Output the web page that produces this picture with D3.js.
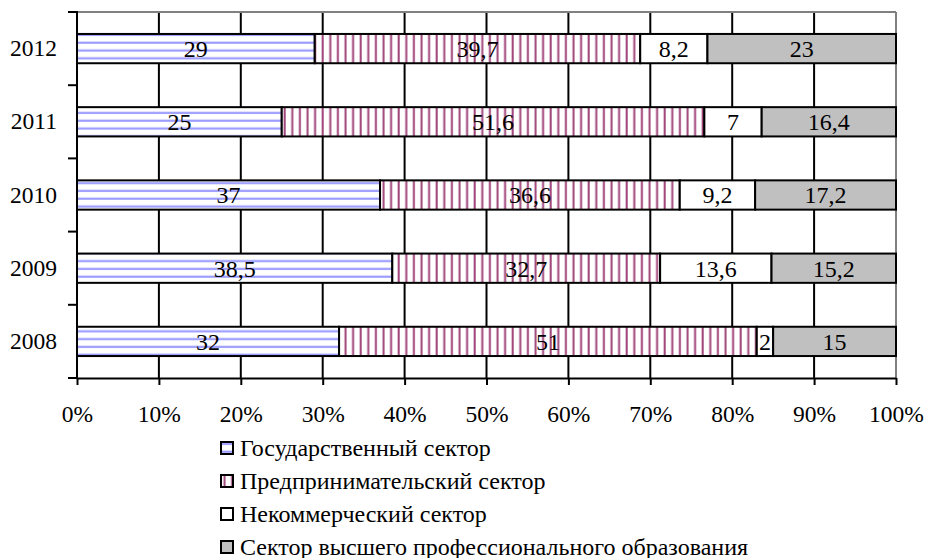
<!DOCTYPE html>
<html>
<head>
<meta charset="utf-8">
<script src="https://cdn.jsdelivr.net/npm/d3@7/dist/d3.min.js"></script>
<style>
  html, body { margin: 0; padding: 0; background: #fff; }
  svg { display: block; }
</style>
</head>
<body>
<svg id="chart" width="926" height="558"></svg>
<script>
// Structure of R&D funding by sector, %, 2008–2012
const years = ["2012", "2011", "2010", "2009", "2008"];
const sectors = [
  "Государственный сектор",
  "Предпринимательский сектор",
  "Некоммерческий сектор",
  "Сектор высшего профессионального образования"
];
const government   = [29, 25, 37, 38.5, 32];
const business     = [39.7, 51.6, 36.6, 32.7, 51];
const nonprofit    = [8.2, 7, 9.2, 13.6, 2];
const higherEdu    = [23, 16.4, 17.2, 15.2, 15];
const xTicks = [0, 0.1, 0.2, 0.3, 0.4, 0.5, 0.6, 0.7, 0.8, 0.9, 1];
const labelFormat = v => String(v).replace(".", ",");

const FONT_FAMILY = '"Liberation Serif", serif';
const AXIS_FONT = 23.5;
const LABEL_FONT = 24;
const LEGEND_FONT = 24;

const svg = d3.select("#chart");
const plot = { left: 77, right: 896, top: 12, bottom: 378 };

const x = d3.scaleLinear().domain([0, 1]).range([plot.left, plot.right]);
const y = d3.scaleBand().domain(years).range([plot.top, plot.bottom])
  .paddingInner(0.6).paddingOuter(0.3);

const serif = size => sel => sel
  .style("font-family", FONT_FAMILY)
  .style("font-size", size + "px")
  .attr("fill", "#000");

// Fill patterns
const defs = svg.append("defs");
const pGov = defs.append("pattern").attr("id", "pat-gov")
  .attr("patternUnits", "userSpaceOnUse").attr("width", 8).attr("height", 7.8);
pGov.append("rect").attr("width", 8).attr("height", 7.8).attr("fill", "#fff");
pGov.append("rect").attr("x", 0).attr("y", 2.6).attr("width", 8).attr("height", 2.2).attr("fill", "#9c9cff");

const pBus = defs.append("pattern").attr("id", "pat-bus")
  .attr("patternUnits", "userSpaceOnUse").attr("width", 7.6).attr("height", 8);
pBus.append("rect").attr("width", 7.6).attr("height", 8).attr("fill", "#fff");
pBus.append("rect").attr("x", 2.5).attr("y", 0).attr("width", 2).attr("height", 8).attr("fill", "#a0457a");

const fills = ["url(#pat-gov)", "url(#pat-bus)", "#ffffff", "#c0c0c0"];

// Vertical gridlines
svg.append("g").selectAll("line").data(xTicks).join("line")
  .attr("x1", d => x(d)).attr("x2", d => x(d))
  .attr("y1", plot.top).attr("y2", plot.bottom)
  .attr("stroke", d => d === 1 ? "#808080" : "#000")
  .attr("stroke-width", 2);
// Top border of plot area
svg.append("line")
  .attr("x1", plot.left).attr("x2", plot.right)
  .attr("y1", plot.top).attr("y2", plot.top)
  .attr("stroke", "#808080").attr("stroke-width", 2);

// Stacked 100% bars
const rows = years.map((yr, i) => {
  const vals = [government[i], business[i], nonprofit[i], higherEdu[i]];
  const total = d3.sum(vals);
  let acc = 0;
  return vals.map((v, k) => {
    const s = { year: yr, k, v, x0: acc / total, x1: (acc + v) / total };
    acc += v;
    return s;
  });
}).flat();

const bars = svg.append("g");
bars.selectAll("rect").data(rows).join("rect")
  .attr("x", d => x(d.x0)).attr("width", d => x(d.x1) - x(d.x0))
  .attr("y", d => y(d.year)).attr("height", y.bandwidth())
  .attr("fill", d => fills[d.k])
  .attr("stroke", "#000").attr("stroke-width", 2);

bars.selectAll("text").data(rows).join("text")
  .attr("x", d => (x(d.x0) + x(d.x1)) / 2)
  .attr("y", d => y(d.year) + y.bandwidth() / 2)
  .attr("dy", "0.35em")
  .attr("text-anchor", "middle")
  .call(serif(LABEL_FONT))
  .text(d => labelFormat(d.v));

// Y axis: labels plus boundary ticks
const yAxis = svg.append("g").attr("transform", `translate(${plot.left},0)`)
  .call(d3.axisLeft(y).tickSize(0).tickPadding(20));
yAxis.select(".domain").remove();
yAxis.selectAll("text").call(serif(AXIS_FONT));
const bounds = d3.range(years.length + 1).map(i => plot.top + i * y.step());
svg.append("g").selectAll("line").data(bounds).join("line")
  .attr("x1", plot.left - 9).attr("x2", plot.left)
  .attr("y1", d => d).attr("y2", d => d)
  .attr("stroke", "#000").attr("stroke-width", 2);
svg.append("line")
  .attr("x1", plot.left).attr("x2", plot.left)
  .attr("y1", plot.top - 1).attr("y2", plot.bottom + 1)
  .attr("stroke", "#000").attr("stroke-width", 2);

// X axis
const xAxis = svg.append("g").attr("transform", `translate(0,${plot.bottom})`)
  .call(d3.axisBottom(x).tickValues(xTicks).tickFormat(d3.format(".0%"))
    .tickSize(7).tickSizeOuter(0).tickPadding(20));
xAxis.select(".domain").attr("stroke", "#000").attr("stroke-width", 2);
xAxis.selectAll(".tick line").attr("stroke", "#000").attr("stroke-width", 2);
xAxis.selectAll("text").call(serif(AXIS_FONT));

// Legend
const legend = svg.append("g");
const lg = legend.selectAll("g").data(sectors).join("g")
  .attr("transform", (d, i) => `translate(221,${448 + i * 33})`);
lg.append("rect").attr("x", 0).attr("y", -6).attr("width", 12).attr("height", 12)
  .attr("fill", (d, i) => fills[i]).attr("stroke", "#000").attr("stroke-width", 2);
lg.append("text").attr("x", 19).attr("dy", "0.35em")
  .call(serif(LEGEND_FONT)).text(d => d);
</script>
</body>
</html>
